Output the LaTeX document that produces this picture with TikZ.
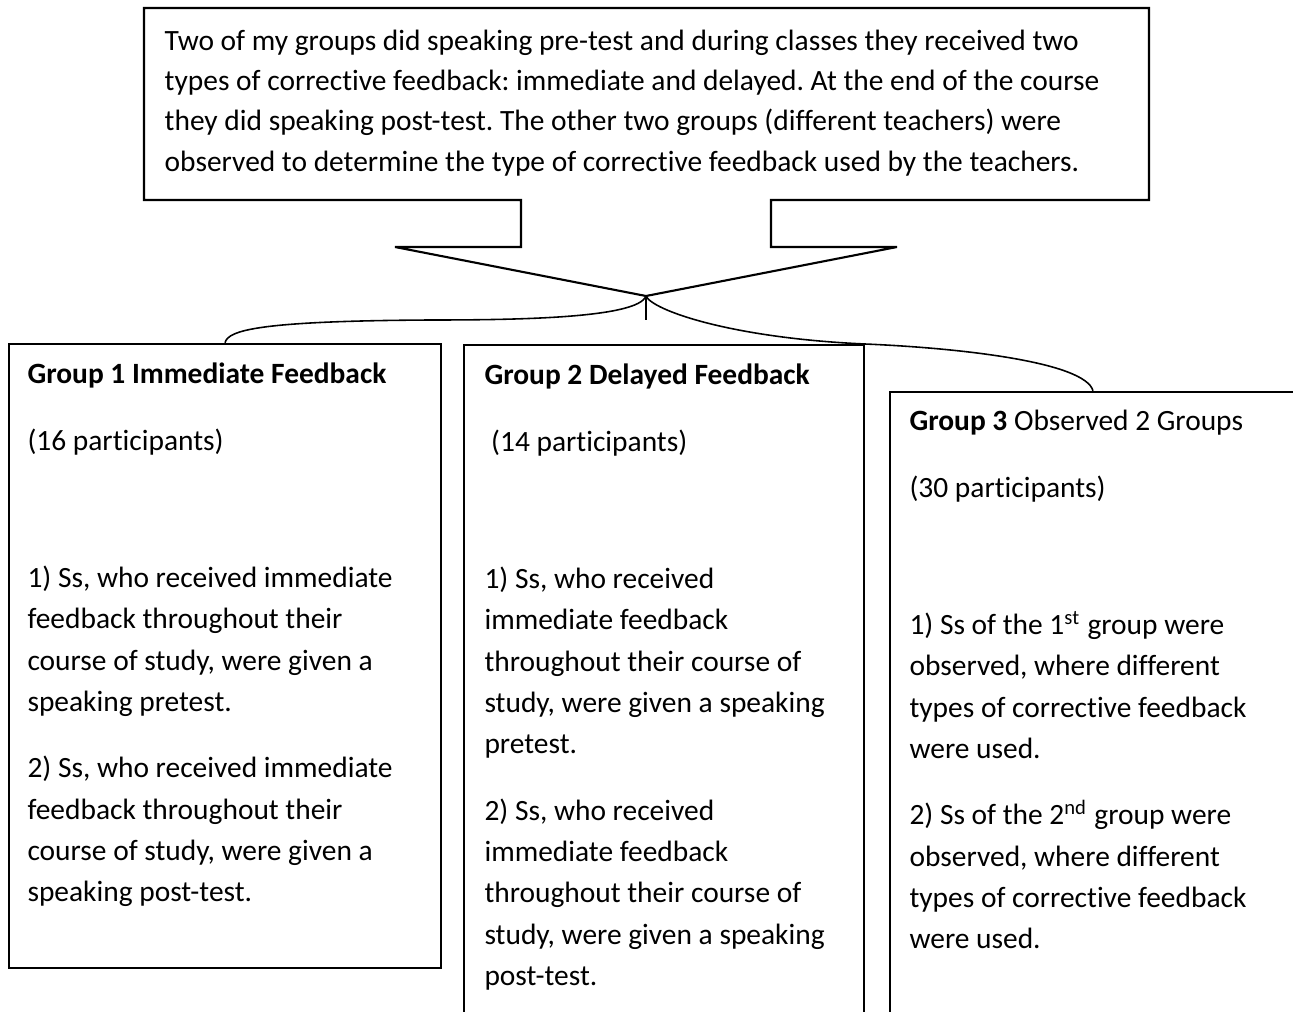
\documentclass[tikz,border=0pt]{standalone}
\usepackage{fontspec}
\setmainfont{Carlito}[Ligatures=NoCommon]
\usetikzlibrary{positioning}
\newcommand{\grpfont}{\fontsize{8.37}{11.75}\selectfont\frenchspacing}
\newcommand{\briefont}{\fontsize{8.37}{11.4}\selectfont\frenchspacing}

\begin{document}
\begin{tikzpicture}[x=0.01cm,y=-0.01cm,
    box/.style={draw, line width=0.6pt, inner sep=0pt},
    txt/.style={anchor=north west, inner sep=0pt, align=left, font=\grpfont},
    link/.style={line width=0.45pt}]
    \useasboundingbox (0,0) rectangle (1293,1012);
    \coordinate (hub) at (646,296);
    \coordinate (stub) at (646,320);
    \draw[line width=0.6pt] (144,8) -- (1149,8) -- (1149,200) -- (771,200) -- (771,247) -- (897,247) -- (hub)
        -- (395,247) -- (521,247) -- (521,200) -- (144,200) -- cycle;
    \node[txt, font=\briefont] (brief) at (164,22) {\strut Two of my groups did speaking pre-test and during classes they received two\\
        types of corrective feedback: immediate and delayed. At the end of the course\\
        they did speaking post-test. The other two groups (different teachers) were\\
        observed to determine the type of corrective feedback used by the teachers.};
    \node[box, minimum width=4.32cm, minimum height=6.24cm] (g1) at (225,656) {};
    \node[box, minimum width=4.00cm, minimum height=6.95cm] (g2) at (664,692.5) {};
    \node[box, minimum width=4.06cm, minimum height=6.48cm] (g3) at (1093,716) {};
    \node[txt] (g1text) at ([shift={(19,11)}]g1.north west) {\strut\textbf{Group 1 Immediate Feedback}\\[0.257cm]
        (16 participants)\\[0.957cm]
        1) Ss, who received immediate\\
        feedback throughout their\\
        course of study, were given a\\
        speaking pretest.\\[0.25cm]
        2) Ss, who received immediate\\
        feedback throughout their\\
        course of study, were given a\\
        speaking post-test.};
    \node[txt] (g2text) at ([shift={(21,11)}]g2.north west) {\strut\textbf{Group 2 Delayed Feedback}\\[0.257cm]
        \ (14 participants)\\[0.957cm]
        1) Ss, who received\\
        immediate feedback\\
        throughout their course of\\
        study, were given a speaking\\
        pretest.\\[0.25cm]
        2) Ss, who received\\
        immediate feedback\\
        throughout their course of\\
        study, were given a speaking\\
        post-test.};
    \node[txt] (g3text) at ([shift={(20,10)}]g3.north west) {\strut\textbf{Group 3} Observed 2 Groups\\[0.257cm]
        (30 participants)\\[0.957cm]
        1) Ss of the 1\textsuperscript{st} group were\\
        observed, where different\\
        types of corrective feedback\\
        were used.\\[0.25cm]
        2) Ss of the 2\textsuperscript{nd} group were\\
        observed, where different\\
        types of corrective feedback\\
        were used.};
    \draw[link] (hub) .. controls (638,318) and (520,320) .. (430,320) .. controls (260,321) and (228,330) .. (g1.north);
    \draw[link] (hub) -- (stub);
    \draw[link] (hub) .. controls (652,310) and (730,338) .. (865,344) .. controls (960,348) and (1085,362) .. (g3.north);
\end{tikzpicture}
\end{document}
